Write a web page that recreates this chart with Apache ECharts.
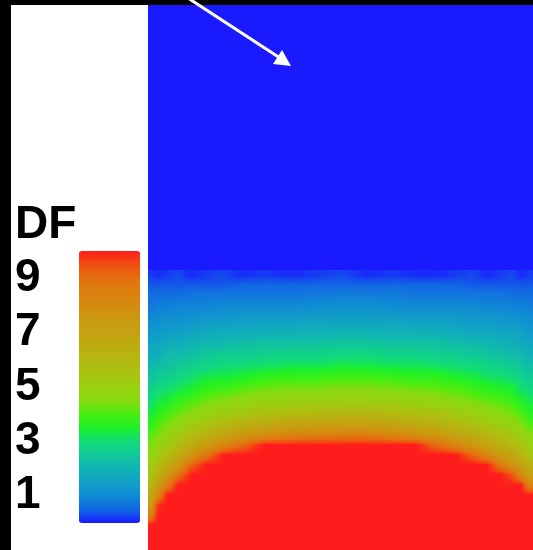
<!DOCTYPE html>
<html>
<head>
<meta charset="utf-8">
<script src="https://cdn.jsdelivr.net/npm/echarts@6/dist/echarts.min.js"></script>
<style>
html,body{margin:0;padding:0;background:#000;}
#chart{width:533px;height:550px;}
</style>
</head>
<body>
<div id="chart"></div>
<script>
// ---- data ----
const legendTitle = 'DF';
const tickValues = [1, 3, 5, 7, 9];
const dfMin = 0;
const dfMax = 10;
// column edges across the field (x units, left -> right)
const colEdges = [0, 6, 14, 24, 36, 50, 66, 84, 104, 128, 154, 180, 206, 232, 256, 278, 298, 316, 332, 346, 358, 368, 377, 385];
// uniform upper region (depth 0 -> 265)
const upperDepth = [0, 265];
const upperValue = 0;
// row edges in depth units for the lower region
const rowEdges = [265, 275, 285, 295, 305, 315, 325, 335, 345, 355, 365, 375, 385, 395, 405, 415, 425, 435, 445, 455, 465, 475, 485, 495, 505, 515, 525, 535, 545];
// DF values, one row per band, one value per column
const dfRows = [
  [0.2,0.1,0.2,0.3,0.1,0.2,0.3,0.1,0.2,0.1,0.2,0.3,0.1,0.2,0.1,0.1,0.2,0.3,0.1,0.2,0.3,0.1,0.2],
  [0.4,0.4,0.4,0.4,0.4,0.4,0.4,0.5,0.5,0.5,0.5,0.5,0.5,0.5,0.5,0.5,0.5,0.4,0.4,0.4,0.4,0.4,0.4],
  [0.6,0.6,0.6,0.6,0.7,0.7,0.7,0.7,0.7,0.7,0.8,0.8,0.8,0.8,0.7,0.7,0.7,0.7,0.7,0.7,0.6,0.6,0.6],
  [0.7,0.8,0.8,0.9,0.9,0.9,1.0,1.0,1.0,1.0,1.0,1.1,1.1,1.0,1.0,1.0,1.0,1.0,0.9,0.9,0.9,0.8,0.8],
  [0.9,1.0,1.0,1.1,1.1,1.2,1.2,1.3,1.3,1.3,1.4,1.4,1.4,1.4,1.3,1.3,1.3,1.2,1.2,1.2,1.1,1.1,1.0],
  [1.2,1.2,1.3,1.3,1.4,1.5,1.6,1.6,1.6,1.7,1.7,1.7,1.7,1.7,1.7,1.6,1.6,1.5,1.5,1.4,1.4,1.3,1.2],
  [1.4,1.4,1.5,1.6,1.7,1.8,1.9,1.9,2.0,2.0,2.0,2.1,2.1,2.0,2.0,2.0,1.9,1.8,1.8,1.7,1.7,1.6,1.4],
  [1.6,1.7,1.8,1.9,2.0,2.1,2.2,2.3,2.4,2.4,2.4,2.5,2.5,2.4,2.4,2.4,2.3,2.2,2.1,2.0,1.9,1.8,1.7],
  [1.8,1.9,2.1,2.2,2.3,2.5,2.6,2.6,2.7,2.8,2.8,2.9,2.9,2.8,2.8,2.7,2.6,2.5,2.4,2.3,2.2,2.1,1.9],
  [2.1,2.2,2.3,2.5,2.6,2.8,2.9,3.0,3.1,3.2,3.2,3.3,3.3,3.2,3.2,3.1,3.0,2.9,2.8,2.7,2.6,2.4,2.2],
  [2.3,2.5,2.6,2.8,3.0,3.2,3.3,3.4,3.6,3.7,3.7,3.8,3.8,3.7,3.6,3.6,3.4,3.3,3.1,3.0,2.9,2.7,2.5],
  [2.6,2.8,2.9,3.1,3.3,3.6,3.7,3.9,4.1,4.2,4.2,4.3,4.3,4.2,4.1,4.0,3.9,3.7,3.5,3.4,3.3,3.0,2.8],
  [2.9,3.1,3.2,3.5,3.7,4.0,4.2,4.4,4.6,4.7,4.7,4.8,4.8,4.7,4.6,4.5,4.3,4.1,3.9,3.8,3.6,3.3,3.1],
  [3.1,3.4,3.6,3.9,4.2,4.5,4.7,4.9,5.1,5.2,5.3,5.4,5.4,5.3,5.1,5.0,4.8,4.6,4.4,4.2,4.0,3.7,3.4],
  [3.4,3.7,4.0,4.3,4.6,4.9,5.3,5.5,5.8,6.0,6.1,6.2,6.2,6.0,5.8,5.7,5.4,5.1,4.8,4.6,4.4,4.1,3.7],
  [3.7,4.1,4.4,4.7,5.1,5.6,6.0,6.4,6.7,7.0,7.1,7.2,7.2,7.0,6.7,6.4,6.1,5.7,5.4,5.0,4.8,4.5,4.1],
  [4.1,4.4,4.8,5.2,5.8,6.3,6.9,7.5,8.0,8.3,8.5,8.6,8.6,8.3,7.9,7.5,7.0,6.5,6.1,5.7,5.4,5.0,4.6],
  [4.4,4.8,5.2,5.8,6.5,7.3,8.2,9.1,10,10,10,10,10,10,10,9.1,8.3,7.6,6.9,6.4,6.0,5.6,5.0],
  [4.7,5.2,5.8,6.5,7.6,8.8,10,10,10,10,10,10,10,10,10,10,10,9.2,8.1,7.4,6.8,6.2,5.6],
  [5.1,5.8,6.5,7.5,9.2,10,10,10,10,10,10,10,10,10,10,10,10,10,10,8.7,7.9,7.1,6.3],
  [5.5,6.4,7.4,8.9,10,10,10,10,10,10,10,10,10,10,10,10,10,10,10,10,9.5,8.2,7.2],
  [6.1,7.2,8.6,10,10,10,10,10,10,10,10,10,10,10,10,10,10,10,10,10,10,10,8.4],
  [6.7,8.2,10,10,10,10,10,10,10,10,10,10,10,10,10,10,10,10,10,10,10,10,10],
  [7.4,9.8,10,10,10,10,10,10,10,10,10,10,10,10,10,10,10,10,10,10,10,10,10],
  [8.4,10,10,10,10,10,10,10,10,10,10,10,10,10,10,10,10,10,10,10,10,10,10],
  [10,10,10,10,10,10,10,10,10,10,10,10,10,10,10,10,10,10,10,10,10,10,10],
  [10,10,10,10,10,10,10,10,10,10,10,10,10,10,10,10,10,10,10,10,10,10,10],
  [10,10,10,10,10,10,10,10,10,10,10,10,10,10,10,10,10,10,10,10,10,10,10]
];
// colour scale, evenly spaced from dfMin to dfMax
const dfColors = ['#1a1aff','#1168e4','#108ad4','#10a0c6','#10b4b4','#10c898','#10dc78','#1ef028','#48ee10','#88da10','#98d010','#a8c410','#b4b810','#bcac10','#c4a210','#cc9810','#d48c10','#dc8010','#e47010','#f05010','#fe1c1c'];

// ---- build cells: [x0, x1, depth0, depth1, value, rowIndex, colIndex] ----
const cells = [];
cells.push([colEdges[0], colEdges[colEdges.length - 1], upperDepth[0], upperDepth[1], upperValue, -1, -1]);
dfRows.forEach((row, r) => {
  row.forEach((v, c) => {
    cells.push([colEdges[c], colEdges[c + 1], rowEdges[r], rowEdges[r + 1], v, r, c]);
  });
});

const nR = dfRows.length, nC = dfRows[0].length;
function val(r, c) {
  r = Math.max(0, Math.min(nR - 1, r));
  c = Math.max(0, Math.min(nC - 1, c));
  return dfRows[r][c];
}
function colorOf(v) {
  const t = Math.max(0, Math.min(1, (v - dfMin) / (dfMax - dfMin)));
  return echarts.color.lerp(t, dfColors);
}
const lerp = (a, b, t) => a + (b - a) * t;

const chart = echarts.init(document.getElementById('chart'));
chart.setOption({
  backgroundColor: '#000',
  animation: false,
  title: {
    text: legendTitle,
    left: 10, top: 197,
    textStyle: {fontFamily: 'Liberation Sans', fontWeight: 'bold', fontSize: 46, color: '#000'}
  },
  grid: [
    {left: 148, top: 5, width: 385, height: 545, show: false},
    {left: 79, top: 251, width: 61, height: 272, show: false},
    {left: 11, top: 5, width: 137, height: 545, show: true, backgroundColor: '#fff', borderWidth: 0, z: 0}
  ],
  xAxis: [
    {gridIndex: 0, type: 'value', min: 0, max: 385, show: false},
    {gridIndex: 1, type: 'value', min: 0, max: 1, show: false},
    {gridIndex: 2, type: 'value', min: 0, max: 1, show: false}
  ],
  yAxis: [
    {gridIndex: 0, type: 'value', min: 0, max: 545, inverse: true, show: false},
    {gridIndex: 1, type: 'value', min: dfMin, max: dfMax, interval: 1,
      axisLine: {show: false}, axisTick: {show: false}, splitLine: {show: false},
      axisLabel: {
        show: true, align: 'left', margin: 64,
        fontFamily: 'Liberation Sans', fontWeight: 'bold', fontSize: 46, color: '#000',
        formatter: v => tickValues.indexOf(v) >= 0 ? String(v) : ''
      }, z: 5},
    {gridIndex: 2, type: 'value', min: 0, max: 1, show: false}
  ],
  visualMap: {
    type: 'continuous', min: dfMin, max: dfMax, dimension: 4, seriesIndex: 0,
    calculable: false, realtime: false,
    left: 79, top: 251, itemWidth: 61, itemHeight: 272, padding: 0,
    text: null, showLabel: false,
    inRange: {color: dfColors}
  },
  series: [{
    type: 'custom',
    xAxisIndex: 0, yAxisIndex: 0,
    clip: true,
    encode: {x: [0, 1], y: [2, 3]},
    data: cells,
    renderItem: function (params, api) {
      const p0 = api.coord([api.value(0), api.value(2)]);
      const p1 = api.coord([api.value(1), api.value(3)]);
      const x = Math.min(p0[0], p1[0]), y = Math.min(p0[1], p1[1]);
      const w = Math.abs(p1[0] - p0[0]), h = Math.abs(p1[1] - p0[1]);
      const r = api.value(5), c = api.value(6), v = api.value(4);
      if (r < 0) {
        return {type: 'rect', shape: {x: x, y: y, width: w + 0.6, height: h + 0.6}, style: {fill: api.visual('color')}};
      }
      // smooth shading of the cell towards its neighbours (rendering only)
      const up = r > 0 ? val(r - 1, c) : v, dn = val(r + 1, c);
      const lf = val(r, c - 1), rt = val(r, c + 1);
      const ul = r > 0 ? val(r - 1, c - 1) : lf, ur = r > 0 ? val(r - 1, c + 1) : rt;
      const dl = val(r + 1, c - 1), dr = val(r + 1, c + 1);
      const T = (v + up) / 2, B = (v + dn) / 2, L = (v + lf) / 2, R = (v + rt) / 2;
      const TL = (v + up + lf + ul) / 4, TR = (v + up + rt + ur) / 4;
      const BL = (v + dn + lf + dl) / 4, BR = (v + dn + rt + dr) / 4;
      const strips = Math.max(1, Math.round(h / 2));
      const children = [];
      for (let i = 0; i < strips; i++) {
        const t = (i + 0.5) / strips;
        let lv, cv, rv;
        if (t < 0.5) {
          const s = t * 2;
          lv = lerp(TL, L, s); cv = lerp(T, v, s); rv = lerp(TR, R, s);
        } else {
          const s = (t - 0.5) * 2;
          lv = lerp(L, BL, s); cv = lerp(v, B, s); rv = lerp(R, BR, s);
        }
        const fill = new echarts.graphic.LinearGradient(0, 0, 1, 0, [
          {offset: 0, color: colorOf(lv)},
          {offset: 0.25, color: colorOf((lv + cv) / 2)},
          {offset: 0.5, color: colorOf(cv)},
          {offset: 0.75, color: colorOf((cv + rv) / 2)},
          {offset: 1, color: colorOf(rv)}
        ]);
        children.push({
          type: 'rect',
          shape: {x: x, y: y + h * i / strips, width: w + 0.6, height: h / strips + 0.6},
          style: {fill: fill}
        });
      }
      return {type: 'group', children: children};
    }
  }],
  graphic: [
    {type: 'line', z: 100, shape: {x1: 188, y1: -2, x2: 280, y2: 58}, style: {stroke: '#fff', lineWidth: 3}},
    {type: 'polygon', z: 100, shape: {points: [[291, 66], [273, 64], [282, 50]]}, style: {fill: '#fff'}}
  ]
});
</script>
</body>
</html>
